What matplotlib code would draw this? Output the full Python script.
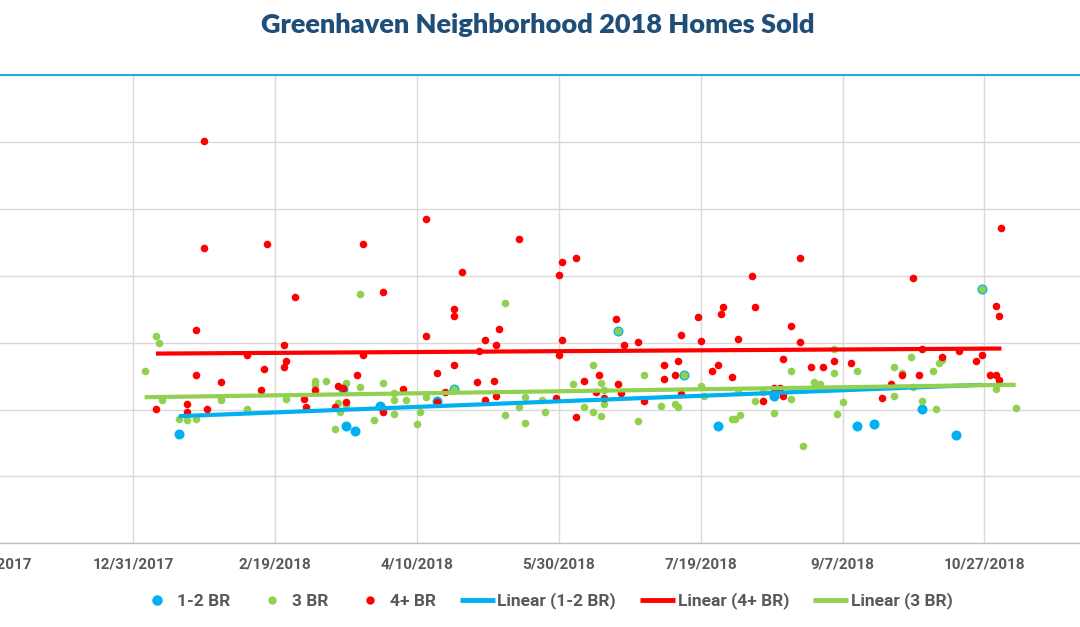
import datetime as dt
import numpy as np
import matplotlib
matplotlib.use("Agg")
import matplotlib.pyplot as plt
import matplotlib.dates as mdates
from matplotlib.lines import Line2D
from matplotlib import font_manager

# ---------------- data (sale day-of-year 2018, price in $k) ----------------
br12_day = [16, 74, 75, 78, 87, 107, 113, 171, 194, 206, 226, 255, 261, 278, 290, 299]
br12_price = [264, 331, 275, 268, 306, 313, 331, 418, 351, 276, 320, 276, 279, 301, 262, 481]

br3_day = [4, 8, 9, 10, 16, 19, 22, 31, 31, 40, 54, 64, 64, 68, 71, 72, 73, 75, 75, 80,
           80, 85, 88, 92, 92, 92, 96, 100, 101, 103, 113, 131, 131, 136, 138, 138, 144, 145,
           155, 159, 162, 162, 165, 165, 166, 166, 171, 178, 180, 186, 191, 192, 194, 200,
           201, 211, 212, 213, 214, 219, 222, 226, 232, 232, 236, 240, 242, 247, 247, 248,
           250, 255, 268, 268, 271, 274, 275, 278, 282, 283, 284, 285, 299, 304, 311]
br3_price = [358, 410, 400, 314, 286, 284, 286, 318, 315, 301, 316, 343, 337, 343, 271, 310,
             296, 340, 307, 473, 334, 284, 340, 325, 314, 294, 315, 279, 296, 319, 331, 460,
             292, 304, 319, 280, 314, 297, 339, 304, 366, 297, 340, 291, 329, 309, 418, 283,
             351, 306, 308, 304, 351, 336, 321, 286, 286, 327, 292, 313, 327, 295, 358, 316,
             246, 342, 339, 391, 354, 294, 312, 358, 363, 321, 354, 379, 334, 313, 358, 301,
             369, 374, 481, 331, 303]

br4_day = [8, 19, 19, 22, 22, 25, 25, 26, 31, 40, 45, 46, 47, 53, 53, 54, 57, 60, 61, 64,
           71, 72, 74, 75, 79, 81, 81, 88, 88, 95, 103, 103, 107, 107, 110, 113, 113, 113,
           116, 121, 122, 124, 124, 127, 128, 128, 129, 136, 149, 150, 150, 151, 151, 156,
           156, 159, 163, 164, 166, 170, 171, 172, 173, 178, 180, 187, 187, 191, 192, 193,
           193, 199, 200, 204, 206, 207, 208, 211, 213, 218, 219, 222, 226, 228, 229, 229,
           232, 235, 235, 239, 243, 247, 253, 264, 267, 271, 275, 277, 278, 285, 291, 297,
           299, 302, 304, 304, 305, 305, 306]
br4_price = [301, 309, 296, 419, 351, 702, 541, 301, 342, 382, 329, 361, 547, 396, 364, 372,
             469, 316, 304, 329, 304, 336, 332, 312, 351, 548, 381, 476, 296, 331, 585, 410,
             355, 311, 326, 451, 440, 367, 506, 342, 388, 404, 314, 343, 396, 321, 421, 555,
             318, 501, 381, 521, 404, 526, 289, 343, 326, 351, 317, 436, 339, 325, 396, 401,
             313, 366, 346, 351, 373, 412, 324, 439, 403, 358, 366, 443, 454, 348, 406, 500,
             454, 313, 333, 333, 376, 321, 425, 526, 401, 363, 364, 373, 370, 318, 339, 351,
             497, 351, 391, 379, 388, 372, 382, 351, 352, 455, 440, 345, 571]

series_names = ["1-2 BR", "3 BR", "4+ BR"]
trend_labels = ["Linear (1-2 BR)", "Linear (4+ BR)", "Linear (3 BR)"]
title_text = "Greenhaven Neighborhood 2018 Homes Sold"

# ---------------- style ----------------
C_BLUE = "#00B0F0"
C_GREEN = "#92D050"
C_RED = "#FF0000"
C_TEXT = "#595959"
C_TITLE = "#1F4E79"

def _w(v):
    m = {"bold": 700, "demibold": 600, "semibold": 600, "heavy": 800,
         "extra bold": 800, "black": 900}
    return v if isinstance(v, int) else m.get(str(v).lower(), 400)

def family_with_bold(cands, minw=700):
    for c in cands:
        for f in font_manager.fontManager.ttflist:
            if f.name == c and _w(f.weight) >= minw and "[" not in f.fname:
                return c
    return "DejaVu Sans"

avail = {f.name for f in font_manager.fontManager.ttflist}
narrow = "Liberation Sans Narrow" if "Liberation Sans Narrow" in avail else "Roboto"
title_font = family_with_bold(["Montserrat", "Lato", "Roboto"], 800)
if title_font == "DejaVu Sans":
    title_font = family_with_bold(["Montserrat", "Lato", "Roboto"], 700)

base = dt.datetime(2017, 12, 31)
def to_dates(days):
    return [base + dt.timedelta(days=int(d)) for d in days]

W, H = 1080, 627
fig = plt.figure(figsize=(W / 100, H / 100), dpi=100)
ax = fig.add_axes([-30 / W, (H - 543.3) / H, 1140 / W, 468.0 / H])

ax.scatter(to_dates(br12_day), br12_price, s=52, color=C_BLUE, linewidths=0, zorder=3)
ax.scatter(to_dates(br3_day), br3_price, s=30, color=C_GREEN, linewidths=0, zorder=3)
ax.scatter(to_dates(br4_day), br4_price, s=30, color=C_RED, linewidths=0, zorder=3)

def trend(days, price, color):
    d = np.array(days, float)
    p = np.array(price, float)
    k, b = np.polyfit(d, p, 1)
    xs = np.array([d.min(), d.max()])
    ax.plot(to_dates(xs), k * xs + b, color=color, lw=3.0, solid_capstyle="butt", zorder=4)

trend(br12_day, br12_price, C_BLUE)
trend(br4_day, br4_price, C_RED)
trend(br3_day, br3_price, C_GREEN)

# axes ticks / limits (limits set after ticks so they are not expanded)
ticks = [base + dt.timedelta(days=50 * i) for i in range(-1, 8)]
ax.set_xticks(ticks)
ax.set_xticklabels([f"{t.month}/{t.day}/{t.year}" for t in ticks],
                   fontfamily=narrow, fontweight="bold", fontsize=11, color=C_TEXT)
ax.set_yticks(np.arange(100, 801, 100))
ax.set_yticklabels([])
x0 = mdates.date2num(base)
ax.set_xlim(x0 - 57.56, x0 + 344.27)
ax.set_ylim(100, 800)
ax.tick_params(axis="both", length=0, pad=10)
ax.grid(True, color="#D9D9D9", lw=1.0, zorder=0)
ax.set_axisbelow(True)
for s in ["left", "right"]:
    ax.spines[s].set_visible(False)
ax.spines["bottom"].set_color("#BFBFBF")
ax.spines["bottom"].set_linewidth(1.0)
ax.spines["top"].set_color("#29A8DF")
ax.spines["top"].set_linewidth(1.5)

tw = "heavy" if title_font in ("Lato", "Montserrat") else "bold"
fig.text(538 / W, 1 - 25 / H, title_text, ha="center", va="center",
         fontfamily=title_font, fontweight=tw, fontsize=19.5, color=C_TITLE)

handles = [
    Line2D([], [], ls="none", marker="o", ms=6.5, color=C_BLUE),
    Line2D([], [], ls="none", marker="o", ms=5, color=C_GREEN),
    Line2D([], [], ls="none", marker="o", ms=5, color=C_RED),
    Line2D([], [], color=C_BLUE, lw=3.5, solid_capstyle="butt"),
    Line2D([], [], color=C_RED, lw=3.5, solid_capstyle="butt"),
    Line2D([], [], color=C_GREEN, lw=3.5, solid_capstyle="butt"),
]
labels = series_names + trend_labels
leg = fig.legend(handles, labels, loc="center", bbox_to_anchor=(546 / W, 1 - 601 / H),
                 ncol=6, frameon=False, handlelength=2.0, handletextpad=0.15,
                 columnspacing=1.4, borderpad=0, borderaxespad=0,
                 prop={"family": narrow, "weight": "bold", "size": 12.5})
for t in leg.get_texts():
    t.set_color(C_TEXT)

fig.savefig("out.png", dpi=100)
